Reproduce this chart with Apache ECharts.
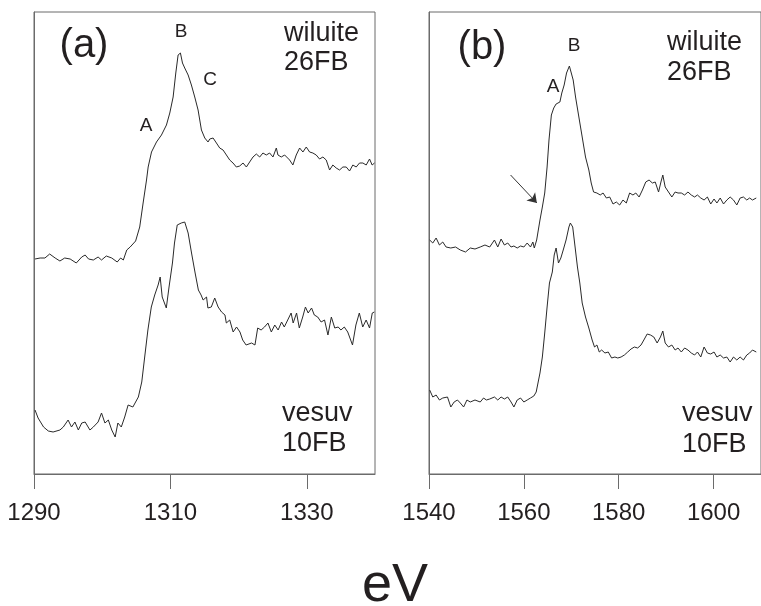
<!DOCTYPE html>
<html>
<head>
<meta charset="utf-8">
<script src="https://cdn.jsdelivr.net/npm/echarts@6/dist/echarts.min.js"></script>
<style>
html,body{margin:0;padding:0;background:#fff;}
#chart{width:761px;height:606px;}
</style>
</head>
<body>
<div id="chart"></div>
<script>
// Panel (a): energy (eV) and intensity (arb. units, offset)
const wiluiteA_eV = [1290.15,1290.9,1291.6,1292.3,1293.1,1293.8,1294.5,1295.3,1296.2,1297.0,1297.5,1298.0,1298.7,1299.4,1299.9,1300.6,1301.4,1302.2,1302.7,1303.1,1303.6,1304.1,1304.9,1305.5,1306.0,1306.5,1306.74,1307.23,1307.96,1308.69,1309.42,1309.91,1310.4,1310.79,1311.13,1311.47,1311.77,1312.1,1312.6,1313.08,1313.57,1314.06,1314.55,1315.04,1315.52,1315.77,1316.26,1316.75,1317.23,1317.72,1318.21,1318.7,1319.18,1319.67,1320.16,1320.65,1321.14,1321.62,1322.11,1322.6,1323.09,1323.57,1324.06,1324.55,1325.04,1325.53,1325.77,1326.26,1326.75,1327.48,1327.96,1328.45,1328.95,1329.43,1329.92,1330.41,1330.89,1331.38,1331.87,1332.36,1332.85,1333.34,1333.82,1334.31,1334.8,1335.29,1335.78,1336.27,1336.75,1337.24,1337.73,1338.22,1338.71,1339.2,1339.58,1339.93];
const wiluiteA_int = [2.15,2.16,2.16,2.20,2.16,2.13,2.16,2.15,2.11,2.17,2.19,2.15,2.14,2.17,2.14,2.18,2.16,2.12,2.16,2.14,2.24,2.27,2.33,2.47,2.71,2.94,3.07,3.22,3.32,3.39,3.49,3.61,3.77,4.01,4.19,4.21,4.11,4.06,3.99,3.89,3.77,3.64,3.44,3.36,3.32,3.35,3.36,3.31,3.26,3.24,3.19,3.14,3.11,3.07,3.08,3.11,3.07,3.12,3.17,3.20,3.17,3.21,3.19,3.21,3.17,3.26,3.19,3.17,3.19,3.14,3.09,3.19,3.26,3.22,3.27,3.22,3.21,3.19,3.15,3.17,3.14,3.04,3.09,3.06,3.04,3.07,3.07,3.03,3.09,3.07,3.11,3.11,3.09,3.15,3.09,3.11];

const vesuvA_eV = [1290.15,1290.6,1291.4,1292.1,1292.8,1293.8,1294.3,1295.0,1295.5,1296.0,1296.5,1297.0,1297.5,1298.2,1298.7,1299.4,1299.9,1300.4,1300.9,1301.4,1301.9,1302.3,1302.8,1303.3,1303.8,1304.5,1305.3,1305.8,1306.3,1306.7,1307.2,1307.7,1308.2,1308.5,1308.8,1309.4,1309.8,1310.3,1310.6,1311.0,1311.6,1312.1,1312.6,1313.1,1313.6,1314.1,1314.5,1314.8,1315.3,1315.5,1316.0,1316.5,1317.0,1317.5,1318.0,1318.2,1318.7,1319.2,1319.7,1320.2,1320.6,1321.1,1321.9,1322.4,1322.8,1323.3,1323.8,1324.3,1324.8,1325.3,1325.8,1326.3,1326.7,1327.2,1327.7,1328.0,1328.5,1328.9,1329.4,1329.8,1330.2,1330.7,1331.1,1331.6,1332.1,1332.6,1333.1,1333.6,1334.1,1334.6,1335.0,1335.5,1336.0,1336.7,1337.2,1337.7,1338.2,1338.7,1339.2,1339.6,1339.9];
const vesuvA_int = [0.64,0.56,0.47,0.43,0.42,0.44,0.47,0.54,0.47,0.52,0.44,0.51,0.52,0.44,0.47,0.52,0.61,0.51,0.54,0.44,0.37,0.51,0.47,0.57,0.69,0.67,0.77,0.92,1.21,1.44,1.67,1.79,1.89,1.97,1.77,1.66,1.87,2.11,2.31,2.49,2.51,2.52,2.41,2.21,2.02,1.84,1.79,1.74,1.77,1.66,1.67,1.76,1.67,1.62,1.59,1.51,1.54,1.42,1.47,1.42,1.34,1.29,1.31,1.29,1.46,1.44,1.47,1.51,1.42,1.49,1.44,1.52,1.47,1.54,1.61,1.51,1.61,1.46,1.57,1.67,1.61,1.66,1.59,1.57,1.52,1.54,1.39,1.57,1.46,1.47,1.44,1.47,1.42,1.29,1.49,1.61,1.47,1.54,1.46,1.61,1.62];

// Panel (b)
const wiluiteB_eV = [1540.14,1540.8,1541.5,1542.2,1542.9,1543.6,1544.6,1545.6,1546.6,1547.7,1548.7,1549.7,1550.8,1551.8,1552.8,1553.8,1554.5,1555.2,1555.9,1556.6,1557.3,1557.9,1558.6,1559.3,1560.0,1560.7,1561.4,1561.9,1562.2,1562.7,1563.4,1563.9,1564.4,1564.9,1565.3,1565.8,1566.3,1566.8,1567.2,1567.6,1568.0,1568.5,1569.0,1569.6,1570.0,1570.4,1570.9,1571.6,1572.3,1573.0,1573.7,1574.2,1574.7,1575.4,1576.1,1576.7,1577.4,1578.1,1578.8,1579.5,1580.2,1580.9,1581.6,1582.3,1583.0,1583.6,1584.3,1585.0,1585.7,1586.4,1587.1,1587.7,1588.4,1588.9,1589.3,1589.8,1590.5,1591.2,1591.9,1592.5,1593.2,1593.9,1594.6,1595.3,1596.0,1596.6,1597.3,1598.0,1598.7,1599.4,1600.1,1600.7,1601.4,1602.1,1602.8,1603.5,1604.2,1604.9,1605.6,1606.3,1607.0,1607.6,1608.2,1609.0];
const wiluiteB_int = [2.34,2.31,2.36,2.29,2.32,2.27,2.26,2.27,2.24,2.22,2.26,2.25,2.27,2.29,2.27,2.34,2.27,2.35,2.29,2.31,2.27,2.28,2.26,2.28,2.27,2.31,2.27,2.32,2.26,2.34,2.54,2.67,2.81,3.07,3.34,3.59,3.66,3.70,3.68,3.72,3.81,3.89,4.01,4.08,4.06,3.94,3.77,3.57,3.37,3.17,3.04,2.91,2.82,2.81,2.79,2.81,2.76,2.77,2.70,2.72,2.69,2.74,2.71,2.81,2.79,2.81,2.77,2.84,2.92,2.94,2.91,2.92,2.82,2.92,2.99,2.87,2.82,2.77,2.82,2.81,2.81,2.79,2.82,2.79,2.77,2.79,2.76,2.74,2.77,2.70,2.75,2.71,2.76,2.70,2.74,2.77,2.74,2.69,2.76,2.77,2.74,2.76,2.74,2.76];

const vesuvB_eV = [1540.14,1540.8,1541.5,1542.2,1542.9,1543.9,1544.6,1545.3,1546.0,1546.6,1547.3,1548.0,1548.7,1549.7,1550.8,1551.5,1552.1,1552.8,1553.8,1554.5,1555.2,1555.9,1556.6,1557.3,1557.9,1558.6,1559.3,1560.0,1560.7,1561.4,1562.1,1562.6,1563.4,1563.9,1564.4,1564.9,1565.4,1566.0,1566.4,1566.8,1567.3,1567.8,1568.3,1568.9,1569.5,1569.8,1570.3,1570.8,1571.3,1571.8,1572.3,1573.0,1573.7,1574.4,1574.9,1575.4,1575.9,1576.4,1577.1,1577.8,1578.5,1579.2,1579.8,1580.5,1581.2,1581.9,1582.6,1583.3,1584.0,1584.7,1585.3,1586.0,1586.7,1587.4,1588.1,1588.8,1589.3,1589.8,1590.5,1591.2,1591.9,1592.5,1593.2,1593.9,1594.6,1595.3,1596.0,1596.6,1597.3,1598.0,1598.7,1599.4,1600.1,1600.7,1601.4,1602.1,1602.8,1603.5,1604.2,1604.9,1605.6,1606.3,1607.0,1607.6,1608.2,1609.0];
const vesuvB_int = [0.84,0.77,0.79,0.74,0.76,0.77,0.67,0.72,0.74,0.71,0.67,0.74,0.72,0.74,0.72,0.76,0.74,0.75,0.77,0.74,0.77,0.75,0.77,0.72,0.67,0.74,0.76,0.72,0.74,0.76,0.78,0.82,1.01,1.17,1.41,1.67,1.91,2.02,2.19,2.26,2.11,2.16,2.24,2.34,2.47,2.51,2.47,2.27,2.07,1.91,1.71,1.57,1.46,1.34,1.27,1.29,1.22,1.24,1.21,1.22,1.16,1.17,1.16,1.17,1.19,1.22,1.25,1.27,1.26,1.29,1.34,1.40,1.39,1.37,1.31,1.37,1.43,1.31,1.27,1.29,1.24,1.26,1.22,1.26,1.24,1.21,1.19,1.22,1.17,1.27,1.21,1.20,1.22,1.17,1.19,1.16,1.17,1.12,1.17,1.14,1.17,1.14,1.19,1.21,1.24,1.22];

// Axis ticks
const ticksA = [1290, 1310, 1330];
const ticksB = [1540, 1560, 1580, 1600];
const rangeA = [1290, 1340];
const rangeB = [1540, 1610];
const intensityRange = [0, 4.62];

// Annotation arrow (panel b) in data coordinates
const arrowB = [[1557.2, 2.99], [1562.75, 2.71]];

function zip(xs, ys) { return xs.map((x, i) => [x, ys[i]]); }

const FONT = "'Liberation Sans', Arial, Helvetica, sans-serif";
const TXT = '#231f20';
const AX = '#6b6b6b';

function xAxisFor(idx, range, ticks) {
  return {
    type: 'value', gridIndex: idx, min: range[0], max: range[1],
    axisLine: { show: true, lineStyle: { color: AX, width: 1 } },
    axisTick: { show: true, inside: false, length: 15, customValues: ticks, lineStyle: { color: AX, width: 1 } },
    axisLabel: { show: true, customValues: ticks, margin: 27, fontSize: 24, color: TXT, fontFamily: FONT,
      formatter: function (v) { return String(Math.round(v)); } },
    splitLine: { show: false }
  };
}
function yAxisFor(idx) {
  return {
    type: 'value', gridIndex: idx, min: intensityRange[0], max: intensityRange[1],
    axisLine: { show: true, lineStyle: { color: AX, width: 1 } },
    axisTick: { show: false }, axisLabel: { show: false }, splitLine: { show: false }
  };
}
function lineSeries(idx, data, extra) {
  return Object.assign({
    type: 'line', xAxisIndex: idx, yAxisIndex: idx, data: data,
    showSymbol: false, symbol: 'none', smooth: false,
    lineStyle: { color: '#2a2a2a', width: 1 }, silent: true, clip: true
  }, extra || {});
}
function txt(x, y, s, size, align) {
  return { type: 'text', x: x, y: y, silent: true,
    style: { text: s, fontSize: size, fontFamily: FONT, fill: TXT, align: align || 'center', verticalAlign: 'middle' } };
}

const chart = echarts.init(document.getElementById('chart'), null, { renderer: 'canvas' });
chart.setOption({
  animation: false,
  backgroundColor: '#ffffff',
  grid: [
    { left: 34, top: 12, width: 341, height: 462, show: true, borderColor: AX, borderWidth: 1, containLabel: false },
    { left: 429, top: 12, width: 341, height: 462, show: true, borderColor: AX, borderWidth: 1, containLabel: false }
  ],
  xAxis: [xAxisFor(0, rangeA, ticksA), xAxisFor(1, rangeB, ticksB)],
  yAxis: [yAxisFor(0), yAxisFor(1)],
  series: [
    lineSeries(0, zip(wiluiteA_eV, wiluiteA_int)),
    lineSeries(0, zip(vesuvA_eV, vesuvA_int)),
    lineSeries(1, zip(wiluiteB_eV, wiluiteB_int), {
      markLine: {
        silent: true, symbol: ['none', 'arrow'], symbolSize: 9,
        label: { show: false },
        lineStyle: { color: '#333', width: 1, type: 'solid' },
        itemStyle: { color: '#333' },
        data: [[{ coord: arrowB[0] }, { coord: arrowB[1] }]]
      }
    }),
    lineSeries(1, zip(vesuvB_eV, vesuvB_int))
  ],
  graphic: [
    txt(84, 46, '(a)', 40),
    txt(181, 32, 'B', 19),
    txt(146, 126, 'A', 19),
    txt(210, 80, 'C', 19),
    txt(284, 34, 'wiluite', 27, 'left'),
    txt(284, 63, '26FB', 27, 'left'),
    txt(282, 414, 'vesuv', 27, 'left'),
    txt(282, 444, '10FB', 27, 'left'),
    txt(482, 48, '(b)', 40),
    txt(574, 46, 'B', 19),
    txt(553, 87, 'A', 19),
    txt(667, 43, 'wiluite', 27, 'left'),
    txt(667, 73, '26FB', 27, 'left'),
    txt(682, 414, 'vesuv', 27, 'left'),
    txt(682, 445, '10FB', 27, 'left'),
    txt(395, 586, 'eV', 54)
  ]
});
</script>
</body>
</html>
